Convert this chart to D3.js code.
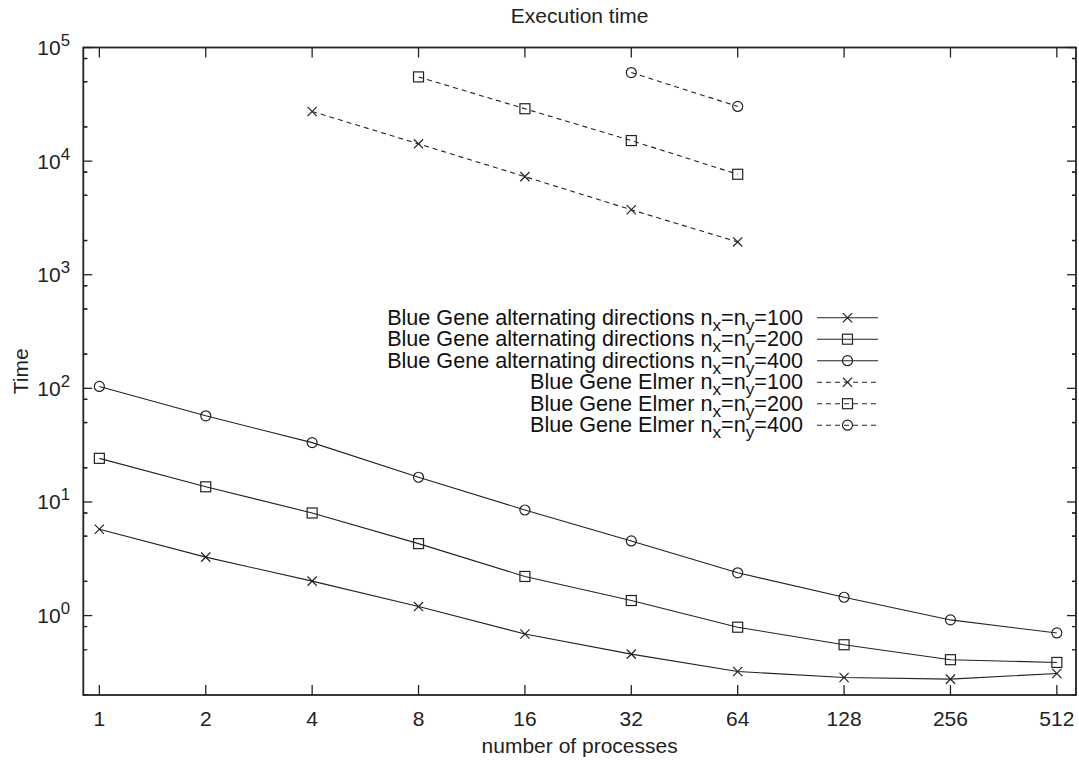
<!DOCTYPE html>
<html>
<head>
<meta charset="utf-8">
<script src="https://cdn.jsdelivr.net/npm/d3@7"></script>
<style>
  html, body { margin: 0; padding: 0; background: #fff; }
  svg { display: block; font-family: "Liberation Sans", Arial, Helvetica, sans-serif; }
</style>
</head>
<body>
<svg id="chart" width="1079" height="761"></svg>
<script>
// ---- data ----
const procs = [1, 2, 4, 8, 16, 32, 64, 128, 256, 512];
const ad100 = [5.75, 3.27, 2.01, 1.20, 0.689, 0.458, 0.322, 0.285, 0.276, 0.309];
const ad200 = [24.2, 13.6, 8.0, 4.3, 2.21, 1.357, 0.79, 0.554, 0.409, 0.387];
const ad400 = [104, 57.3, 33.3, 16.5, 8.5, 4.54, 2.38, 1.45, 0.916, 0.703];
const elmerProcs100 = [4, 8, 16, 32, 64];
const elmer100 = [27350, 14190, 7300, 3730, 1945];
const elmerProcs200 = [8, 16, 32, 64];
const elmer200 = [55100, 28900, 15170, 7660];
const elmerProcs400 = [32, 64];
const elmer400 = [60150, 30300];
const xTickValues = [1, 2, 4, 8, 16, 32, 64, 128, 256, 512];
const yMajorExps = [0, 1, 2, 3, 4, 5];
const yMinorMultipliers = [2, 5, 8];
const seriesNames = [
  {pre: "Blue Gene alternating directions n", size: "100"},
  {pre: "Blue Gene alternating directions n", size: "200"},
  {pre: "Blue Gene alternating directions n", size: "400"},
  {pre: "Blue Gene Elmer n", size: "100"},
  {pre: "Blue Gene Elmer n", size: "200"},
  {pre: "Blue Gene Elmer n", size: "400"}
];

const series = [
  {x: procs, y: ad100, marker: "cross", dashed: false},
  {x: procs, y: ad200, marker: "square", dashed: false},
  {x: procs, y: ad400, marker: "circle", dashed: false},
  {x: elmerProcs100, y: elmer100, marker: "cross", dashed: true},
  {x: elmerProcs200, y: elmer200, marker: "square", dashed: true},
  {x: elmerProcs400, y: elmer400, marker: "circle", dashed: true}
];

// ---- layout ----
const L = 83.3, R = 1076, T = 47.5, B = 695;
const FS = 21;
const LFS = 21.6;
const ink = "#222";
const svg = d3.select("#chart");

const x = d3.scaleLog().base(2).domain([Math.pow(2, -0.151), Math.pow(2, 9.18)]).range([L, R]);
const y = d3.scaleLog().domain([0.2, 1e5]).range([B, T]);

// ---- ticks ----
const tickG = svg.append("g").attr("stroke", ink).attr("stroke-width", 1.3);
yMajorExps.forEach(e => {
  const v = Math.pow(10, e);
  const yy = y(v);
  tickG.append("line").attr("x1", L).attr("x2", L + 9).attr("y1", yy).attr("y2", yy);
  tickG.append("line").attr("x1", R).attr("x2", R - 9).attr("y1", yy).attr("y2", yy);
  yMinorMultipliers.forEach(m => {
    [v * m, v * m / 10].forEach(mv => {
      if (mv >= 0.2 && mv <= 1e5) {
        const my = y(mv);
        tickG.append("line").attr("x1", L).attr("x2", L + 4).attr("y1", my).attr("y2", my);
        tickG.append("line").attr("x1", R).attr("x2", R - 4).attr("y1", my).attr("y2", my);
      }
    });
  });
});
xTickValues.forEach(v => {
  const xx = x(v);
  tickG.append("line").attr("x1", xx).attr("x2", xx).attr("y1", B).attr("y2", B - 10);
  tickG.append("line").attr("x1", xx).attr("x2", xx).attr("y1", T).attr("y2", T + 10);
});

// ---- tick labels ----
const yl = svg.append("g").attr("font-size", FS).attr("fill", ink);
yMajorExps.forEach(e => {
  const t = yl.append("text").attr("x", 70).attr("y", y(Math.pow(10, e)) + 7.5).attr("text-anchor", "end");
  t.append("tspan").text("10");
  t.append("tspan").attr("font-size", FS * 0.8).attr("dy", -9).text(String(e));
});
const xl = svg.append("g").attr("font-size", FS).attr("fill", ink).attr("text-anchor", "middle");
xTickValues.forEach(v => {
  xl.append("text").attr("x", x(v)).attr("y", 726).text(String(v));
});

// ---- titles ----
svg.append("text").attr("x", (L + R) / 2).attr("y", 23).attr("text-anchor", "middle")
  .attr("font-size", FS).attr("fill", ink).text("Execution time");
svg.append("text").attr("x", (L + R) / 2).attr("y", 753).attr("text-anchor", "middle")
  .attr("font-size", FS).attr("fill", ink).text("number of processes");
svg.append("text").attr("transform", `translate(28,${(T + B) / 2}) rotate(-90)`).attr("text-anchor", "middle")
  .attr("font-size", FS).attr("fill", ink).text("Time");

// ---- markers ----
function drawMarker(g, type, cx, cy) {
  if (type === "cross") {
    const s = 4.6;
    g.append("path").attr("d", `M${cx - s},${cy - s}L${cx + s},${cy + s}M${cx - s},${cy + s}L${cx + s},${cy - s}`)
      .attr("stroke", ink).attr("stroke-width", 1.2).attr("fill", "none");
  } else if (type === "square") {
    g.append("rect").attr("x", cx - 5).attr("y", cy - 5).attr("width", 10).attr("height", 10)
      .attr("stroke", ink).attr("stroke-width", 1.2).attr("fill", "none");
  } else {
    g.append("circle").attr("cx", cx).attr("cy", cy).attr("r", 5)
      .attr("stroke", ink).attr("stroke-width", 1.2).attr("fill", "none");
  }
}

// ---- series ----
const line = d3.line().x(d => x(d[0])).y(d => y(d[1]));
const plotG = svg.append("g");
series.forEach(s => {
  const pts = s.x.map((xv, i) => [xv, s.y[i]]);
  plotG.append("path").datum(pts).attr("d", line).attr("fill", "none")
    .attr("stroke", ink).attr("stroke-width", 1.1)
    .attr("stroke-dasharray", s.dashed ? "5,4" : null);
  pts.forEach(p => drawMarker(plotG, s.marker, x(p[0]), y(p[1])));
});

// ---- legend ----
const lg = svg.append("g");
const rowY0 = 317.7, rowDY = 21.5;
series.forEach((s, i) => {
  const ry = rowY0 + i * rowDY;
  const t = lg.append("text").attr("x", 803).attr("y", ry + 7).attr("text-anchor", "end")
    .attr("font-size", LFS).attr("fill", "#111");
  t.append("tspan").text(seriesNames[i].pre);
  t.append("tspan").attr("font-size", LFS * 0.8).attr("dy", 6).text("x");
  t.append("tspan").attr("dy", -6).text("=n");
  t.append("tspan").attr("font-size", LFS * 0.8).attr("dy", 6).text("y");
  t.append("tspan").attr("dy", -6).text("=" + seriesNames[i].size);
  lg.append("line").attr("x1", 817).attr("x2", 878).attr("y1", ry).attr("y2", ry)
    .attr("stroke", ink).attr("stroke-width", 1.1).attr("stroke-dasharray", s.dashed ? "5,4" : null);
  drawMarker(lg, s.marker, 847.5, ry);
});

// ---- border ----
svg.append("rect").attr("x", L).attr("y", T).attr("width", R - L).attr("height", B - T)
  .attr("fill", "none").attr("stroke", ink).attr("stroke-width", 1.8);
</script>
</body>
</html>
